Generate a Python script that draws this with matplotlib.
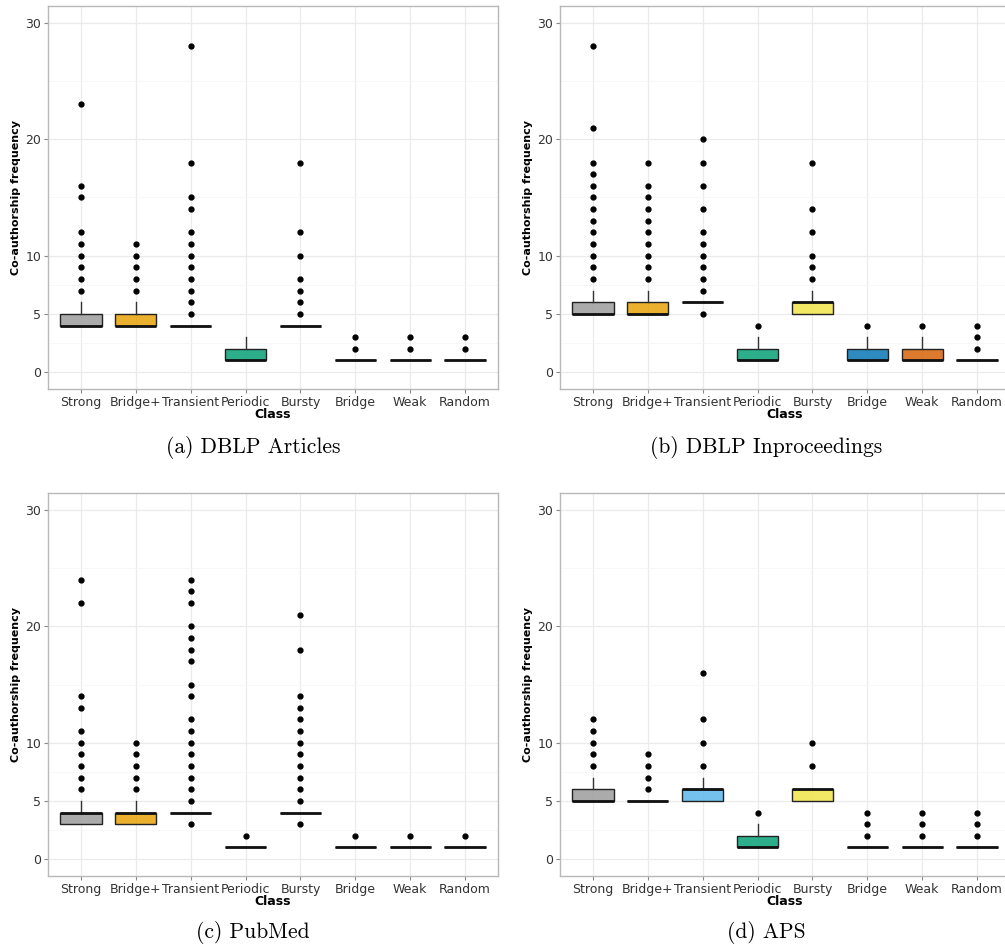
import matplotlib
matplotlib.use("Agg")
import matplotlib.pyplot as plt
from matplotlib.colors import to_rgba

# Классы и цвета
classes = ["Strong", "Bridge+", "Transient", "Periodic", "Bursty", "Bridge", "Weak", "Random"]
colors = ["#999999", "#E69F00", "#56B4E9", "#009E73", "#F0E442", "#0072B2", "#D55E00", "#CC79A7"]

# (a) DBLP Articles
a_q1 = [4, 4, 4, 1, 4, 1, 1, 1]
a_med = [4, 4, 4, 1, 4, 1, 1, 1]
a_q3 = [5, 5, 4, 2, 4, 1, 1, 1]
a_whi = [6, 6, 4, 3, 4, 1, 1, 1]
a_out = [[7, 8, 9, 10, 11, 12, 15, 16, 23],
         [7, 8, 9, 10, 11],
         [5, 6, 7, 8, 9, 10, 11, 12, 14, 15, 18, 28],
         [],
         [5, 6, 7, 8, 10, 12, 18],
         [2, 3], [2, 3], [2, 3]]

# (b) DBLP Inproceedings
b_q1 = [5, 5, 6, 1, 5, 1, 1, 1]
b_med = [5, 5, 6, 1, 6, 1, 1, 1]
b_q3 = [6, 6, 6, 2, 6, 2, 2, 1]
b_whi = [7, 7, 6, 3, 7, 3, 3, 1]
b_out = [[8, 9, 10, 11, 12, 13, 14, 15, 16, 17, 18, 21, 28],
         [8, 9, 10, 11, 12, 13, 14, 15, 16, 18],
         [5, 7, 8, 9, 10, 11, 12, 14, 16, 18, 20],
         [4],
         [8, 9, 10, 12, 14, 18],
         [4], [4], [2, 3, 4]]

# (c) PubMed
c_q1 = [3, 3, 4, 1, 4, 1, 1, 1]
c_med = [4, 4, 4, 1, 4, 1, 1, 1]
c_q3 = [4, 4, 4, 1, 4, 1, 1, 1]
c_whi = [5, 5, 4, 1, 4, 1, 1, 1]
c_out = [[6, 7, 8, 9, 10, 11, 13, 14, 22, 24],
         [6, 7, 8, 9, 10],
         [3, 5, 6, 7, 8, 9, 10, 11, 12, 14, 15, 17, 18, 19, 20, 22, 23, 24],
         [2],
         [3, 5, 6, 7, 8, 9, 10, 11, 12, 13, 14, 18, 21],
         [2], [2], [2]]

# (d) APS
d_q1 = [5, 5, 5, 1, 5, 1, 1, 1]
d_med = [5, 5, 6, 1, 6, 1, 1, 1]
d_q3 = [6, 5, 6, 2, 6, 1, 1, 1]
d_whi = [7, 5, 7, 3, 6, 1, 1, 1]
d_out = [[8, 9, 10, 11, 12],
         [6, 7, 8, 9],
         [8, 10, 12, 16],
         [4],
         [8, 10],
         [2, 3, 4], [2, 3, 4], [2, 3, 4]]

captions = ["(a) DBLP Articles", "(b) DBLP Inproceedings", "(c) PubMed", "(d) APS"]
panels = [(a_q1, a_med, a_q3, a_whi, a_out),
          (b_q1, b_med, b_q3, b_whi, b_out),
          (c_q1, c_med, c_q3, c_whi, c_out),
          (d_q1, d_med, d_q3, d_whi, d_out)]

W, H = 1005, 947
fig = plt.figure(figsize=(W / 100, H / 100), dpi=100)

# положения панелей в пикселях: left, top, width, height
boxes = [(48, 6, 450, 383), (560, 6, 450, 383),
         (48, 493, 450, 383), (560, 493, 450, 383)]
cap_pos = [(253, 447), (766, 447), (253, 932), (766, 932)]

for i, (q1, med, q3, whi, out) in enumerate(panels):
    l, t, w, h = boxes[i]
    ax = fig.add_axes([l / W, 1 - (t + h) / H, w / W, h / H])
    stats = []
    for k in range(len(classes)):
        stats.append(dict(q1=q1[k], med=med[k], q3=q3[k],
                          whislo=q1[k], whishi=whi[k], fliers=out[k]))
    bp = ax.bxp(stats, positions=range(len(classes)), widths=0.75,
                patch_artist=True, showcaps=False,
                boxprops=dict(edgecolor="#222222", linewidth=1.0),
                whiskerprops=dict(color="#333333", linewidth=1.0),
                medianprops=dict(color="#111111", linewidth=2.0),
                flierprops=dict(marker="o", markerfacecolor="black",
                                markeredgecolor="black", markersize=3.5))
    for patch, c in zip(bp["boxes"], colors):
        patch.set_facecolor(to_rgba(c, 0.82))

    ax.set_xlim(-0.6, 7.6)
    ax.set_ylim(-1.45, 31.45)
    ax.set_yticks([0, 5, 10, 20, 30])
    ax.set_yticks([2.5, 7.5, 15, 25], minor=True)
    ax.set_xticks(range(len(classes)))
    ax.set_xticklabels(classes)
    ax.set_axisbelow(True)
    ax.grid(True, which="major", color="#ebebeb", linewidth=0.9)
    ax.grid(True, which="minor", axis="y", color="#f4f4f4", linewidth=0.5)
    ax.tick_params(which="minor", length=0)
    ax.tick_params(which="major", length=3, color="#888888",
                   labelsize=9, labelcolor="#333333", pad=2)
    for s in ax.spines.values():
        s.set_color("#b8b8b8")
        s.set_linewidth(1.0)
    ax.set_xlabel("Class", fontsize=9, fontweight="bold", labelpad=-1)
    ax.set_ylabel("Co-authorship frequency", fontsize=8, fontweight="bold", labelpad=3)

    cx, cy = cap_pos[i]
    fig.text(cx / W, 1 - cy / H, captions[i], ha="center", va="center",
             fontsize=15.5, family="cmr10")

fig.savefig("out.png", dpi=100)
